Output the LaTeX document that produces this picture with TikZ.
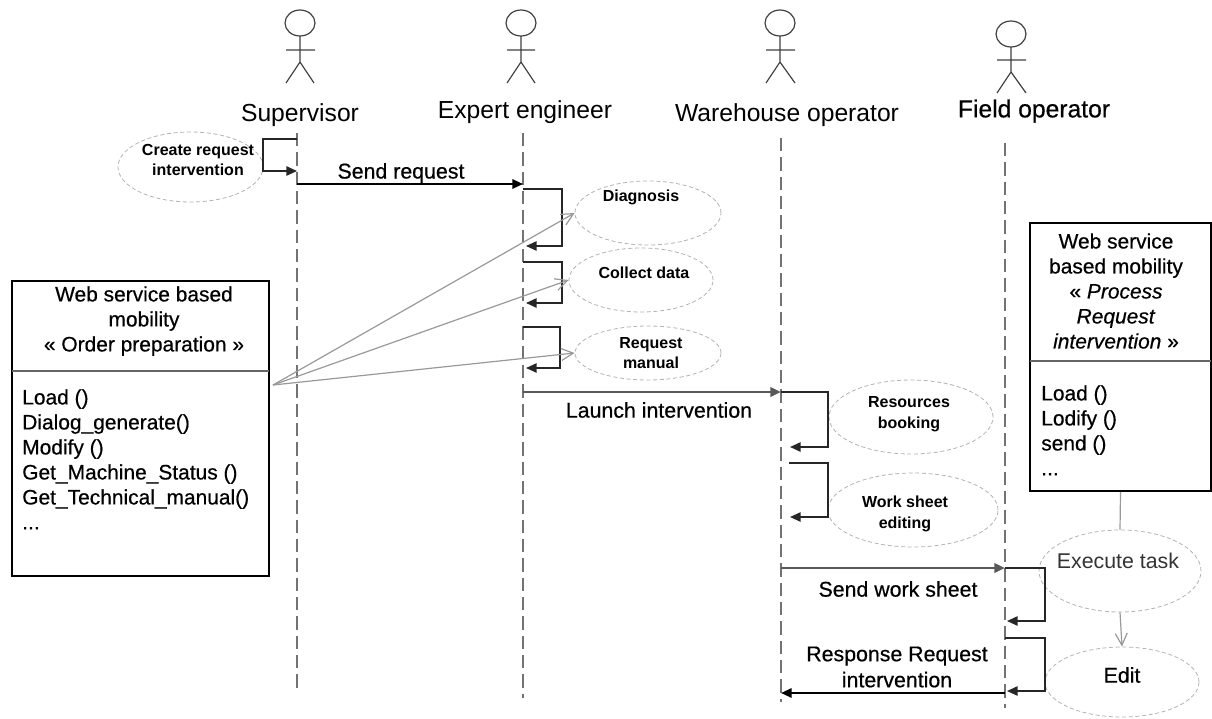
\documentclass[tikz,border=0pt]{standalone}
\usepackage{fontspec}
\setmainfont{Liberation Sans}
\newfontfamily\heavyfont[FakeBold=0.5]{Liberation Sans}
\usetikzlibrary{arrows.meta,shapes.geometric}

\tikzset{
  figure/.style={line width=0.9pt,color=black!75},
  lifeline/.style={line width=1.4pt,color=black!55,dash pattern=on 10pt off 4.5pt},
  usecase/.style={ellipse,draw=black!30,line width=0.6pt,dash pattern=on 3pt off 2pt,inner sep=0pt},
  classbox/.style={draw=black,line width=1.6pt,inner sep=0pt},
  classline/.style={line width=1.4pt,color=black!60},
  selfmsg/.style={line width=1.3pt,color=black!85,-{Triangle[length=8pt,width=7pt]}},
  mainmsg/.style={line width=1.9pt,color=black!65,-{Triangle[length=8pt,width=7pt]}},
  uselink/.style={line width=0.9pt,color=black!40,-{Straight Barb[length=9pt,width=9pt]}},
  actorname/.style={font=\fontsize{18.5}{22}\selectfont},
  msgname/.style={font=\heavyfont\fontsize{16}{19.5}\selectfont,align=center},
  casename/.style={font=\fontsize{12}{15.5}\bfseries\selectfont,align=center},
  boxtext/.style={font=\heavyfont\fontsize{15.7}{18.75}\selectfont,align=center},
  methodtext/.style={font=\heavyfont\fontsize{15.7}{18.75}\selectfont,align=left,anchor=north west,inner sep=0pt}
}

\begin{document}
\begin{tikzpicture}[x=0.75pt,y=0.75pt,yscale=-1,xscale=1]
\useasboundingbox (0,0) rectangle (1212,718);

%Actors
\draw [figure] (300,23) ellipse (15 and 13);
\draw [figure] (300,36) -- (300,62) (286,50) -- (315,50) (286,83) -- (300,62) -- (314,83);
\draw [figure] (521,23) ellipse (15 and 13);
\draw [figure] (521,36) -- (521,62) (507,50) -- (535,50) (507,83) -- (521,62) -- (535,83);
\draw [figure] (780,23) ellipse (15 and 13);
\draw [figure] (780,36) -- (780,62) (766,50) -- (795,50) (766,83) -- (780,62) -- (795,83);
\draw [figure] (1011,34) ellipse (15 and 13);
\draw [figure] (1011,47) -- (1011,72) (997,60) -- (1026,60) (997,93) -- (1011,72) -- (1026,93);

% Text Node
\node [actorname] (supervisor) at (300,115) {Supervisor};
\node [actorname] (expert) at (525,112) {Expert engineer};
\node [actorname] (warehouse) at (787,115) {Warehouse operator};
\node [actorname,font=\heavyfont\fontsize{18.5}{22}\selectfont] (field) at (1034,111) {Field operator};

%Lifelines
\coordinate (suptop) at (297,133);
\coordinate (supbot) at (297,692);
\coordinate (exptop) at (523,133);
\coordinate (expbot) at (523,698);
\coordinate (wartop) at (781,138);
\coordinate (warbot) at (781,702);
\coordinate (fldtop) at (1005,143);
\coordinate (fldbot) at (1005,708);
\draw [lifeline] (suptop) -- (supbot);
\draw [lifeline] (exptop) -- (expbot);
\draw [lifeline] (wartop) -- (warbot);
\draw [lifeline] (fldtop) -- (fldbot);

%Use cases
\node [usecase,minimum width=108.75pt,minimum height=52.5pt] (create) at (190.5,167) {};
\node [usecase,minimum width=109.5pt,minimum height=48pt] (diagnosis) at (648,213) {};
\node [usecase,minimum width=108pt,minimum height=48pt] (collect) at (641,280) {};
\node [usecase,minimum width=109.5pt,minimum height=40.5pt] (manual) at (648,353) {};
\node [usecase,minimum width=123pt,minimum height=55.5pt] (resources) at (911,417) {};
\node [usecase,minimum width=127.5pt,minimum height=55.5pt] (worksheet) at (913,510) {};
\node [usecase,minimum width=121.5pt,minimum height=61.5pt] (execute) at (1120,571) {};
\node [usecase,minimum width=115.5pt,minimum height=52.5pt] (edit) at (1122,682) {};

% Text Node
\node [casename] (createname) at (198,160) {Create request\\intervention};
\node [casename] (diagnosisname) at (641,197) {Diagnosis};
\node [casename] (collectname) at (644,273) {Collect data};
\node [casename] (manualname) at (651,353) {Request\\manual};
\node [casename] (resourcesname) at (909,414) {Resources\\booking};
\node [casename] (worksheetname) at (905,514) {Work sheet\\editing};
\node [font=\fontsize{16}{19.5}\selectfont,color=black!80] (executename) at (1118,561) {Execute task};
\node [msgname] (editname) at (1122,675) {Edit};

%Class boxes
\node [classbox,minimum width=192.75pt,minimum height=221.25pt] (orderbox) at (140.5,428.5) {};
\coordinate (orderdivl) at (12,371);
\coordinate (orderdivr) at (269,371);
\draw [classline] (orderdivl) -- (orderdivr);
\node [classbox,minimum width=136pt,minimum height=201pt] (processbox) at (1120.5,357) {};
\coordinate (processdivl) at (1030,361);
\coordinate (processdivr) at (1211,361);
\draw [classline] (processdivl) -- (processdivr);

% Text Node
\node [boxtext] (ordertitle) at (144,321) {Web service based\\mobility\\« Order preparation »};
\node [methodtext] (ordermethods) at (22,389) {Load ()\\Dialog\_generate()\\Modify ()\\Get\_Machine\_Status ()\\Get\_Technical\_manual()\\...};
\node [boxtext] (processtitle) at (1116,291) {Web service\\based mobility\\« \textit{Process}\\\textit{Request}\\\textit{intervention} »};
\node [methodtext] (processmethods) at (1041,385) {Load ()\\Lodify ()\\send ()\\...};

%Self messages
\coordinate (createout) at (297,139);
\coordinate (createin) at (297,171);
\draw [selfmsg] (createout) -- ++(-34,0) |- (createin);
\coordinate (diagnosisout) at (523,189);
\coordinate (diagnosisin) at (526,246);
\draw [selfmsg] (diagnosisout) -- ++(39,0) |- (diagnosisin);
\coordinate (collectout) at (523,262);
\coordinate (collectin) at (526,303);
\draw [selfmsg] (collectout) -- ++(39,0) |- (collectin);
\coordinate (manualout) at (523,327);
\coordinate (manualin) at (526,368);
\draw [selfmsg] (manualout) -- ++(37,0) |- (manualin);
\coordinate (resourcesout) at (781,392);
\coordinate (resourcesin) at (790,447);
\draw [selfmsg] (resourcesout) -- ++(47,0) |- (resourcesin);
\coordinate (worksheetout) at (789,463);
\coordinate (worksheetin) at (790,517);
\draw [selfmsg] (worksheetout) -- ++(39,0) |- (worksheetin);
\coordinate (executeout) at (1005,568);
\coordinate (executein) at (1007,621);
\draw [selfmsg] (executeout) -- ++(40,0) |- (executein);
\coordinate (editout) at (1005,638);
\coordinate (editin) at (1007,691);
\draw [selfmsg] (editout) -- ++(40,0) |- (editin);

%Messages
\coordinate (requestout) at (297,184);
\coordinate (requestin) at (523,184);
\draw [mainmsg,color=black,line width=1.5pt] (requestout) -- (requestin);
\coordinate (launchout) at (523,392);
\draw [mainmsg] (launchout) -- (resourcesout);
\coordinate (sendout) at (781,568);
\draw [mainmsg] (sendout) -- (executeout);
\coordinate (responseout) at (1005,693);
\coordinate (responsein) at (781,693);
\draw [mainmsg,color=black,line width=1.5pt] (responseout) -- (responsein);

% Text Node
\node [msgname] (requestname) at (401,173) {Send request};
\node [msgname] (launchname) at (659,410) {Launch intervention};
\node [msgname] (sendname) at (898,589) {Send work sheet};
\node [msgname] (responsename) at (897,667) {Response Request\\intervention};

%Links to the use cases
\coordinate (orderport) at (273,385);
\draw [uselink] (orderport) -- (diagnosis.west);
\draw [uselink] (orderport) -- (collect.west);
\draw [uselink] (orderport) -- (manual.west);
\draw [uselink,-] (processbox.south) -- (execute.north);
\draw [uselink] (execute.south) -- (edit.north);

\end{tikzpicture}
\end{document}
